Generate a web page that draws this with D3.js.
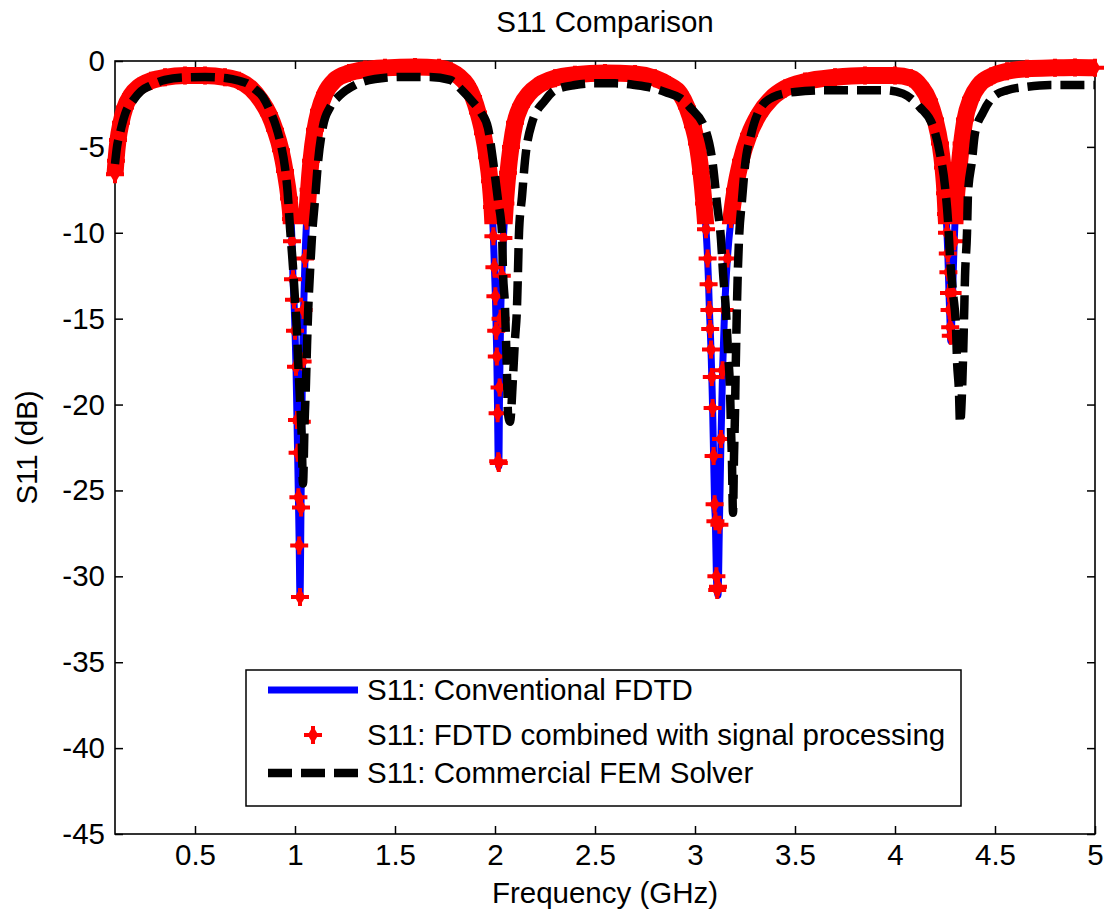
<!DOCTYPE html>
<html>
<head>
<meta charset="utf-8">
<script src="https://cdnjs.cloudflare.com/ajax/libs/d3/7.8.5/d3.min.js"></script>
<style>
    body { margin: 0; background: #fff; }
    text { font-family: "Liberation Sans", Arial, Helvetica, sans-serif; fill: #000; }
</style>
</head>
<body>
<div id="chart"></div>
<script>
// ---------------------------//
//       DATA                 //
// ---------------------------//
// conventional FDTD (blue line), GHz / dB
let freqFDTD = [0.100, 0.105, 0.115, 0.13, 0.15, 0.18, 0.22, 0.28, 0.35, 0.45, 0.55, 0.65, 0.72, 0.78, 0.83, 0.87, 0.90, 0.93, 0.95, 0.97, 0.98,
    0.985, 0.99, 0.995, 1.000, 1.005, 1.010, 1.013, 1.017, 1.021, 1.025,
    1.030, 1.034, 1.038, 1.043, 1.050, 1.058, 1.068, 1.08, 1.10, 1.12, 1.15, 1.20, 1.27, 1.35, 1.45, 1.60, 1.72, 1.78, 1.82, 1.86, 1.89,
    1.915, 1.94, 1.96, 1.975, 1.985, 1.992, 1.997, 2.002, 2.006, 2.009, 2.013, 2.016, 2.019,
    2.023, 2.028, 2.034, 2.042, 2.052, 2.065, 2.08, 2.10, 2.13, 2.17, 2.22, 2.30, 2.40, 2.55, 2.70, 2.80, 2.87, 2.925, 2.96, 2.99,
    3.01, 3.03, 3.045, 3.055, 3.063, 3.068, 3.072, 3.076, 3.080, 3.084, 3.088, 3.093, 3.098, 3.102, 3.107, 3.111, 3.115,
    3.122, 3.130, 3.138, 3.148, 3.162, 3.18, 3.20, 3.23, 3.27, 3.32, 3.38, 3.45, 3.55, 3.70, 3.85, 4.00, 4.08, 4.13, 4.17, 4.20,
    4.225, 4.24, 4.25, 4.255, 4.26, 4.264, 4.267, 4.270, 4.273, 4.276, 4.279,
    4.288, 4.296, 4.305, 4.318, 4.333, 4.35, 4.38, 4.42, 4.48, 4.56, 4.66, 4.80, 4.90, 5.00];
let s11FDTD = [-6.6, -5.8, -4.6, -3.6, -2.7, -2.0, -1.5, -1.15, -0.95, -0.85, -0.85, -0.95, -1.15, -1.6, -2.3, -3.1, -4.0, -5.2, -6.4, -8.0, -9.2,
    -10.5, -12.7, -13.9, -15.7, -17.8, -20.9, -22.8, -25.4, -28.2, -31.2,
    -26, -21, -17.5, -14.5, -11.5, -9.3, -7.5, -5.8, -4.0, -2.9, -1.9, -1.1, -0.7, -0.5, -0.4, -0.35, -0.4, -0.6, -0.9, -1.4, -2.1,
    -3.0, -4.2, -5.6, -7.0, -8.5, -10.2, -12.0, -13.7, -15.7, -17.2, -20.5, -23.3, -23.6,
    -19, -15, -12.5, -10.3, -8.3, -6.5, -5.0, -3.6, -2.6, -1.9, -1.4, -1.0, -0.8, -0.7, -0.75, -1.0, -1.4, -1.9, -2.7, -3.8,
    -4.8, -6.5, -8.3, -9.8, -11.5, -13, -14.5, -15.6, -16.8, -18.4, -20.2, -23, -25.8, -26.8, -30, -30.8, -31.1,
    -27, -22, -18, -14.5, -11.5, -9.2, -7.5, -5.8, -4.3, -3.1, -2.2, -1.6, -1.2, -0.95, -0.85, -0.85, -1.0, -1.5, -2.3, -3.4,
    -4.8, -6.2, -7.7, -8.9, -10.0, -11.2, -12.3, -13.5, -14.5, -15.5, -16.3,
    -13.5, -10.5, -8.3, -6.5, -4.8, -3.4, -2.2, -1.4, -0.9, -0.6, -0.45, -0.4, -0.38, -0.4];

// FDTD combined with signal processing (red markers), same frequency grid
let s11Processed = [-6.6, -5.8, -4.6, -3.6, -2.7, -2.0, -1.5, -1.15, -0.95, -0.85, -0.85, -0.95, -1.15, -1.6, -2.3, -3.1, -4.0, -5.2, -6.4, -8.0, -9.2,
    -10.5, -12.7, -13.9, -15.7, -17.8, -20.9, -22.8, -25.4, -28.2, -31.2,
    -26, -21, -17.5, -14.5, -11.5, -9.3, -7.5, -5.8, -4.0, -2.9, -1.9, -1.1, -0.7, -0.5, -0.4, -0.35, -0.4, -0.6, -0.9, -1.4, -2.1,
    -3.0, -4.2, -5.6, -7.0, -8.5, -10.2, -12.0, -13.7, -15.7, -17.2, -20.5, -23.3, -23.4,
    -19, -15, -12.5, -10.3, -8.3, -6.5, -5.0, -3.6, -2.6, -1.9, -1.4, -1.0, -0.8, -0.7, -0.75, -1.0, -1.4, -1.9, -2.7, -3.8,
    -4.8, -6.5, -8.3, -9.8, -11.5, -13, -14.5, -15.6, -16.8, -18.4, -20.2, -23, -25.8, -26.8, -30, -30.8, -30.6,
    -27, -22, -18, -14.5, -11.5, -9.2, -7.5, -5.8, -4.3, -3.1, -2.2, -1.6, -1.2, -0.95, -0.85, -0.85, -1.0, -1.5, -2.3, -3.4,
    -4.8, -6.2, -7.7, -8.9, -10.0, -11.2, -12.3, -13.5, -14.5, -15.5, -16.0,
    -13.5, -10.5, -8.3, -6.5, -4.8, -3.4, -2.2, -1.4, -0.9, -0.6, -0.45, -0.4, -0.38, -0.4];

// commercial FEM solver (black dashed)
let freqFEM = [0.100, 0.11, 0.125, 0.15, 0.19, 0.23, 0.275, 0.35, 0.45, 0.55, 0.66, 0.72, 0.76, 0.80, 0.84, 0.875, 0.905, 0.93, 0.95, 0.963, 0.975,
    0.99, 1.000, 1.010, 1.017, 1.025, 1.033, 1.040,
    1.048, 1.055, 1.060, 1.066, 1.075, 1.085, 1.10, 1.115, 1.14, 1.175, 1.225, 1.30, 1.40, 1.525, 1.675, 1.775, 1.835, 1.89, 1.93,
    1.965, 1.99, 2.015, 2.035, 2.040, 2.050, 2.055, 2.060, 2.065, 2.075,
    2.090, 2.100, 2.110, 2.115, 2.120, 2.135, 2.15, 2.185, 2.25, 2.30, 2.40, 2.50, 2.60, 2.70, 2.78, 2.86, 2.925, 2.975,
    3.055, 3.09, 3.11, 3.13, 3.14, 3.155, 3.165, 3.175, 3.18, 3.185, 3.19,
    3.195, 3.200, 3.203, 3.206, 3.210, 3.214, 3.220, 3.235, 3.25, 3.28, 3.32, 3.39, 3.50, 3.65, 3.80, 3.95, 4.04, 4.125,
    4.19, 4.225, 4.25, 4.265, 4.275, 4.29, 4.305, 4.31, 4.32, 4.325,
    4.340, 4.345, 4.350, 4.360, 4.365, 4.385, 4.40, 4.44, 4.49, 4.56, 4.66, 4.775, 4.96, 5.00];
let s11FEM = [-6.0, -5.0, -4.2, -3.1, -2.3, -1.75, -1.45, -1.1, -0.95, -0.93, -1.0, -1.15, -1.3, -1.65, -2.1, -2.9, -3.8, -4.9, -6.2, -7.6, -9.7,
    -12, -13.9, -15.8, -17.8, -19.7, -21.7, -24.6,
    -21, -18.7, -16.6, -14.5, -12.3, -10.2, -8.1, -5.9, -3.8, -2.7, -2.0, -1.4, -1.05, -0.93, -0.93, -1.1, -1.7, -2.4, -3.0,
    -3.9, -5.8, -8.1, -10, -12.3, -14.3, -16.2, -18.2, -20.5, -21.0,
    -18.4, -16.2, -14.3, -12.2, -10, -7.9, -5.8, -3.6, -2.3, -1.7, -1.4, -1.3, -1.3, -1.4, -1.55, -1.85, -2.15, -2.7,
    -4.1, -6.1, -8.3, -10.4, -12.3, -14.6, -16.9, -19.1, -21.4, -23.4, -26.3,
    -23, -20.5, -18.2, -16.4, -14.1, -12.3, -10.4, -8.1, -6.1, -4.3, -2.9, -2.1, -1.8, -1.7, -1.7, -1.7, -1.9, -2.7,
    -3.8, -5.4, -7.3, -9.3, -11.4, -13.5, -15.5, -17.4, -19.3, -21.1,
    -17.4, -15.1, -12.6, -10, -7.7, -5.8, -4.2, -3.0, -2.1, -1.7, -1.5, -1.4, -1.4, -1.4];

let xTicks = [0.5, 1, 1.5, 2, 2.5, 3, 3.5, 4, 4.5, 5];
let yTicks = [0, -5, -10, -15, -20, -25, -30, -35, -40, -45];
let legendNames = ["S11: Conventional FDTD", "S11: FDTD combined with signal processing", "S11: Commercial FEM Solver"];

// set the dimensions and margins of the graph
let margin = {
        top: 61,
        right: 10,
        bottom: 79,
        left: 115
    },
    width = 1105 - margin.left - margin.right,
    height = 913 - margin.top - margin.bottom;

let fontSize = "29.5px";

let svg = d3.select("#chart")
    .append("svg")
    .attr("width", 1105)
    .attr("height", 913)
    .append("g")
    .attr("transform", "translate(" + margin.left + "," + margin.top + ")");

let x = d3.scaleLinear()
    .domain([0.1, 5])
    .range([0, width]);

let y = d3.scaleLinear()
    .domain([-45, 0])
    .range([height, 0]);

// ---------------------------//
//       AXES                 //
// ---------------------------//
let tickLen = 8;
let plain = d => String(d);   // plain hyphen, not the unicode minus

svg.append("g")
    .attr("transform", "translate(0," + height + ")")
    .call(d3.axisBottom(x).tickValues(xTicks).tickSize(-tickLen).tickPadding(10).tickFormat(plain))
    .call(g => g.select(".domain").remove());

svg.append("g")
    .call(d3.axisTop(x).tickValues(xTicks).tickSize(-tickLen).tickFormat(""))
    .call(g => g.select(".domain").remove());

svg.append("g")
    .call(d3.axisLeft(y).tickValues(yTicks).tickSize(-tickLen).tickPadding(10).tickFormat(plain))
    .call(g => g.select(".domain").remove());

svg.append("g")
    .attr("transform", "translate(" + width + ",0)")
    .call(d3.axisRight(y).tickValues(yTicks).tickSize(-tickLen).tickFormat(""))
    .call(g => g.select(".domain").remove());

svg.selectAll(".tick line").attr("stroke", "#000").attr("stroke-width", 1.5);
svg.selectAll(".tick text").style("font-size", fontSize).attr("fill", "#000");

// frame
svg.append("rect")
    .attr("width", width)
    .attr("height", height)
    .attr("fill", "none")
    .attr("stroke", "#000")
    .attr("stroke-width", 1.6);

svg.append("text")
    .attr("x", width / 2)
    .attr("y", -29)
    .attr("text-anchor", "middle")
    .style("font-size", fontSize)
    .text("S11 Comparison");

svg.append("text")
    .attr("x", width / 2)
    .attr("y", height + 69)
    .attr("text-anchor", "middle")
    .style("font-size", fontSize)
    .text("Frequency (GHz)");

svg.append("text")
    .attr("transform", "translate(" + (-78) + "," + (height / 2) + ") rotate(-90)")
    .attr("text-anchor", "middle")
    .style("font-size", fontSize)
    .text("S11 (dB)");

// ---------------------------//
//       SERIES               //
// ---------------------------//
let fdtd = freqFDTD.map((f, i) => ({ f: f, v: s11FDTD[i] }));
let processed = freqFDTD.map((f, i) => ({ f: f, v: s11Processed[i] }));
let fem = freqFEM.map((f, i) => ({ f: f, v: s11FEM[i] }));

let line = d3.line()
    .x(d => x(d.f))
    .y(d => y(d.v))
    .curve(d3.curveMonotoneX);

// where the red markers sit so close together they read as a band
svg.append("clipPath")
    .attr("id", "bandClip")
    .append("rect")
    .attr("x", -20)
    .attr("y", -20)
    .attr("width", width + 40)
    .attr("height", y(-9.5) + 20);

svg.append("path")
    .datum(fdtd)
    .attr("d", line)
    .attr("fill", "none")
    .attr("stroke", "#0000ff")
    .attr("stroke-width", 7)
    .attr("stroke-linejoin", "round");

svg.append("path")
    .datum(processed)
    .attr("d", line)
    .attr("fill", "none")
    .attr("stroke", "#ff0000")
    .attr("stroke-width", 17)
    .attr("stroke-linejoin", "round")
    .attr("clip-path", "url(#bandClip)");

// blobby star marker
let markerPath = "M-9,0H9M0,-9V9";
let markerGroup = function (sel) {
    sel.append("path")
        .attr("d", markerPath)
        .attr("stroke", "#ff0000")
        .attr("stroke-width", 4);
    sel.append("path")
        .attr("d", d3.symbol().type(d3.symbolDiamond).size(95))
        .attr("fill", "#ff0000");
}

svg.append("g")
    .selectAll("g")
    .data(processed)
    .enter()
    .append("g")
    .attr("transform", d => "translate(" + x(d.f) + "," + y(d.v) + ")")
    .call(markerGroup);

svg.append("path")
    .datum(fem)
    .attr("d", line)
    .attr("fill", "none")
    .attr("stroke", "#000")
    .attr("stroke-width", 8.5)
    .attr("stroke-dasharray", "24,9");

// ---------------------------//
//       LEGEND               //
// ---------------------------//
let legend = svg.append("g")
    .attr("transform", "translate(" + (246 - margin.left) + "," + (670 - margin.top) + ")");

legend.append("rect")
    .attr("width", 715)
    .attr("height", 136)
    .attr("fill", "#fff")
    .attr("stroke", "#000")
    .attr("stroke-width", 1.5);

let rowY = [20, 65, 103];

legend.append("line")
    .attr("x1", 22).attr("x2", 112)
    .attr("y1", rowY[0]).attr("y2", rowY[0])
    .attr("stroke", "#0000ff")
    .attr("stroke-width", 7);

legend.append("g")
    .attr("transform", "translate(67," + rowY[1] + ")")
    .call(markerGroup);

legend.append("line")
    .attr("x1", 22).attr("x2", 112)
    .attr("y1", rowY[2]).attr("y2", rowY[2])
    .attr("stroke", "#000")
    .attr("stroke-width", 8.5)
    .attr("stroke-dasharray", "24,9");

legend.selectAll("text.lab")
    .data(legendNames)
    .enter()
    .append("text")
    .attr("class", "lab")
    .attr("x", 121)
    .attr("y", (d, i) => rowY[i])
    .attr("dy", "0.35em")
    .style("font-size", fontSize)
    .text(d => d);
</script>
</body>
</html>
